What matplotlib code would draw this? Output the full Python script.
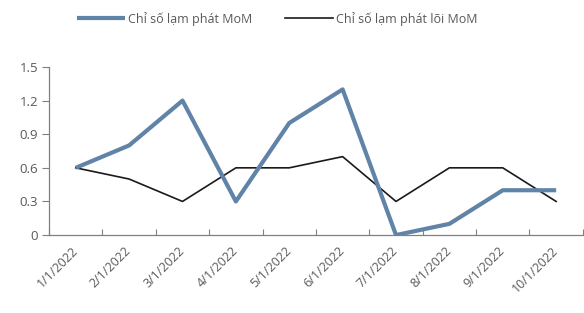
import matplotlib
matplotlib.use("Agg")
import matplotlib.pyplot as plt

plt.rcParams['font.family'] = ['Open Sans', 'DejaVu Sans']

dates = ["1/1/2022", "2/1/2022", "3/1/2022", "4/1/2022", "5/1/2022",
         "6/1/2022", "7/1/2022", "8/1/2022", "9/1/2022", "10/1/2022"]
mom = [0.6, 0.8, 1.2, 0.3, 1.0, 1.3, 0.0, 0.1, 0.4, 0.4]
core_mom = [0.6, 0.5, 0.3, 0.6, 0.6, 0.7, 0.3, 0.6, 0.6, 0.3]
yticks = [0, 0.3, 0.6, 0.9, 1.2, 1.5]
ytick_labels = ["0", "0.3", "0.6", "0.9", "1.2", "1.5"]

txt = "#595959"
axis_col = "#808080"

fig = plt.figure(figsize=(5.84, 3.13), dpi=100)
ax = fig.add_axes([0.084, 0.249, 0.914, 0.537])

x = range(len(dates))
ax.plot(x, mom, color="#6083A8", lw=3.0, label="Chỉ số lạm phát MoM",
        solid_capstyle="butt", zorder=3)
ax.plot(x, core_mom, color="#1a1a1a", lw=1.2, label="Chỉ số lạm phát lõi MoM",
        zorder=2)

ax.set_xlim(-0.5, len(dates) - 0.5)
ax.set_ylim(0, 1.5)
ax.set_yticks(yticks)
ax.set_yticklabels(ytick_labels)

# category ticks sit on the boundaries, labels at the centers
ax.set_xticks([i - 0.5 for i in range(len(dates) + 1)])
ax.set_xticklabels([])
ax.set_xticks(list(x), minor=True)
ax.set_xticklabels(dates, minor=True, rotation=45, ha="right", va="center",
                   rotation_mode="anchor")
ax.tick_params(axis="x", which="major", direction="in", length=4,
               color=axis_col, width=0.8)
ax.tick_params(axis="x", which="minor", length=0, pad=10, labelcolor=txt,
               labelsize=9)
ax.tick_params(axis="y", direction="out", length=5, color=axis_col,
               width=0.8, labelcolor=txt, labelsize=9.5, pad=3)

for s in ["top", "right"]:
    ax.spines[s].set_visible(False)
for s in ["left", "bottom"]:
    ax.spines[s].set_color(axis_col)
    ax.spines[s].set_linewidth(0.9)

leg = fig.legend(loc="center", bbox_to_anchor=(0.475, 0.94), ncol=2,
                 frameon=False, handlelength=3.8, handletextpad=0.3,
                 columnspacing=2.6, fontsize=9)
for t in leg.get_texts():
    t.set_color(txt)

fig.savefig("out.png", dpi=100)
